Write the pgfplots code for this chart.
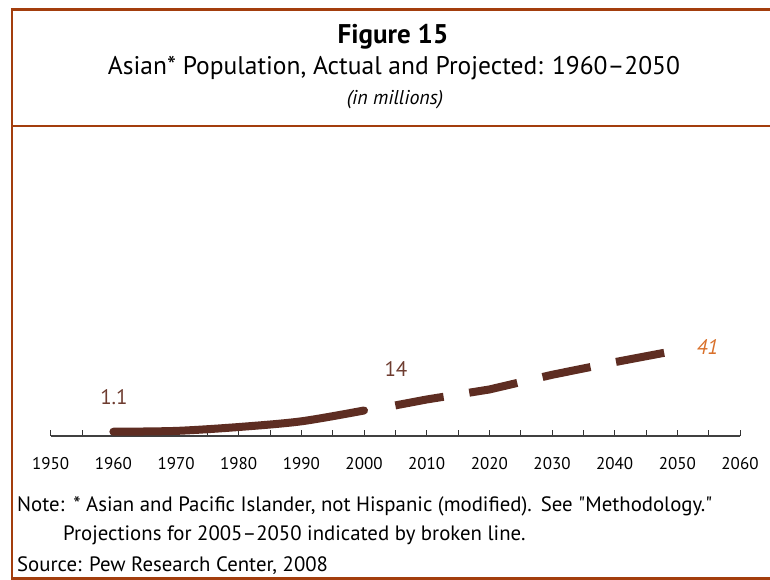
\documentclass[border=0pt]{standalone}
\usepackage{pgfplots}
\pgfplotsset{compat=1.18}
\usepackage{fontspec}
\setmainfont{PT Sans}
\newfontfamily\plainq{PT Sans}[Ligatures=TeXOff]
\definecolor{framec}{RGB}{163,62,13}
\definecolor{linec}{RGB}{94,45,34}
\definecolor{lblc}{RGB}{110,60,48}
\definecolor{orngc}{RGB}{217,112,42}
\begin{document}
\begin{tikzpicture}[x=1pt,y=1pt]
\useasboundingbox (0,0) rectangle (770,580);
\fill[white] (0,0) rectangle (770,580);
% frame
\draw[framec, line width=2.5pt] (12,0) -- (12,571.75);
\draw[framec, line width=2.5pt] (10.75,570.5) -- (770,570.5);
\draw[framec, line width=2.5pt] (12,454) -- (770,454);
\draw[framec, line width=2.5pt] (10.75,1.5) -- (770,1.5);
% titles
\node[font=\fontsize{27}{31}\selectfont\bfseries] at (393,543) {Figure 15};
\node[font=\fontsize{25.5}{29}\selectfont] at (394,512) {Asian* Population, Actual and Projected: 1960–2050};
\node[font=\fontsize{20}{24}\selectfont\itshape] at (395,480) {(in millions)};
% notes
\node[anchor=base west, inner sep=0pt, font=\fontsize{20.8}{24}\selectfont] at (17,68) {Note:\hspace{9pt}* Asian and Pacific Islander, not Hispanic (modified).\hspace{9pt}See {\plainq "}Methodology.{\plainq "}};
\node[anchor=base west, inner sep=0pt, font=\fontsize{20.8}{24}\selectfont] at (63,39) {Projections for 2005–2050 indicated by broken line.};
\node[anchor=base west, inner sep=0pt, font=\fontsize{20.8}{24}\selectfont] at (17,8) {Source: Pew Research Center, 2008};
\begin{axis}[
  at={(50.7pt,144pt)}, anchor=south west,
  scale only axis, width=689.3pt, height=102pt,
  xmin=1950, xmax=2060, ymin=-1, ymax=49,
  axis x line*=bottom, axis y line=none,
  xtick={1950,1960,...,2060},
  minor xtick={1955,1965,...,2055},
  tick align=inside,
  major tick length=6pt, minor tick length=6pt,
  tick style={black!80, line width=0.8pt},
  axis line style={black!75, line width=1.2pt},
  x tick label style={font=\fontsize{17}{20}\selectfont, anchor=center, yshift=-28pt},
  /pgf/number format/1000 sep={},
  /pgf/number format/assume math mode=true,
  clip=false,
]
\addplot[linec, line width=8pt, line cap=round, smooth, tension=0.5] coordinates {
(1960,1.1) (1970,1.5) (1980,3.4) (1990,6.2) (2000,11.5)};
\addplot[linec, line width=8pt, dash pattern=on 49pt off 26pt] coordinates {
(2005,14) (2010,16.9) (2020,21.8) (2030,29.0) (2040,35.2) (2050,41)};
\node[lblc, font=\fontsize{21}{24}\selectfont] at (axis cs:1960.1,17.9) {1.1};
\node[lblc, font=\fontsize{21}{24}\selectfont] at (axis cs:2005.1,31.6) {14};
\node[orngc, font=\fontsize{21}{24}\selectfont\itshape] at (axis cs:2054.8,42.4) {41};
\end{axis}
\end{tikzpicture}
\end{document}
